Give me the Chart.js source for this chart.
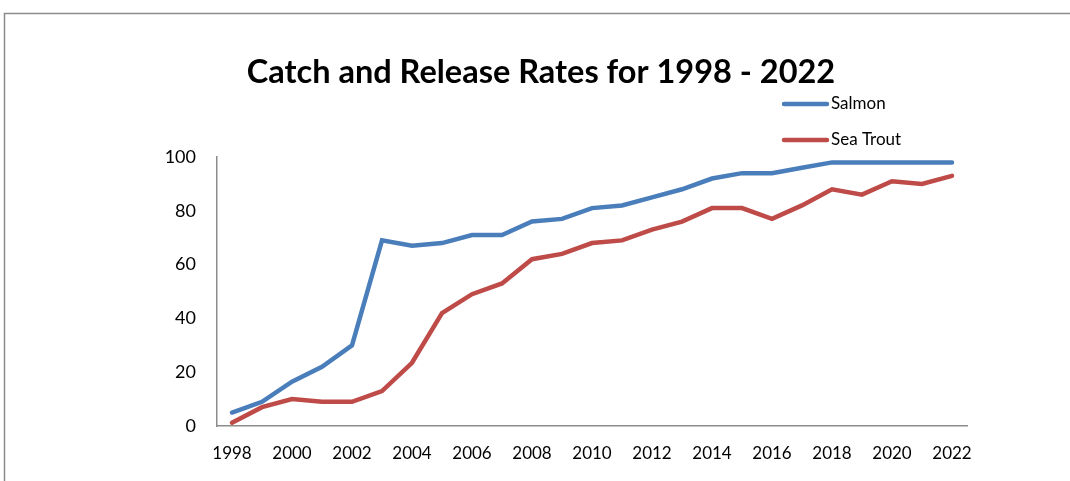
<!DOCTYPE html>
<html>
<head>
<meta charset="utf-8">
<script src="https://cdn.jsdelivr.net/npm/chart.js@4.4.1/dist/chart.umd.min.js"></script>
<style>
  html, body { margin: 0; padding: 0; background: #fff; }
  #wrap { width: 1070px; height: 481px; }
</style>
</head>
<body>
<div id="wrap"><canvas id="rates_chart" width="1070" height="481"></canvas></div>
<script>
const years = ['1998', '1999', '2000', '2001', '2002', '2003', '2004', '2005', '2006', '2007', '2008', '2009',
  '2010', '2011', '2012', '2013', '2014', '2015', '2016', '2017', '2018', '2019', '2020', '2021', '2022'];
const salmon = [5, 9, 16.5, 22, 30, 69, 67, 68, 71, 71, 76, 77, 81, 82, 85, 88, 92, 94, 94, 96, 98, 98, 98, 98, 98];
const seaTrout = [1.2, 7, 10, 9, 9, 13, 23.5, 42, 49, 53, 62, 64, 68, 69, 73, 76, 81, 81, 77, 82, 88, 86, 91, 90, 93];
const yTicks = [0, 20, 40, 60, 80, 100];
const titleText = 'Catch and Release Rates for 1998 - 2022';

const fontFamily = 'Lato, "Open Sans", sans-serif';

// frame, title and legend drawn by hand
const decorations = {
    id: 'decorations',
    beforeDraw(chart) {
      const ctx = chart.ctx;
      ctx.save();
      ctx.strokeStyle = '#8c8c8c';
      ctx.lineWidth = 1.5;
      ctx.beginPath();
      ctx.moveTo(4.5, 481);
      ctx.lineTo(4.5, 13.5);
      ctx.lineTo(1070, 13.5);
      ctx.stroke();
      ctx.restore();
    },
    afterDraw(chart) {
      const ctx = chart.ctx;
      ctx.save();
      ctx.fillStyle = '#000';
      ctx.font = 'bold 32.5px ' + fontFamily;
      ctx.textAlign = 'center';
      ctx.textBaseline = 'middle';
      ctx.fillText(titleText, 541, 73);

      ctx.font = '17px ' + fontFamily;
      ctx.textAlign = 'left';
      const rows = [104, 140];
      chart.data.datasets.forEach((ds, i) => {
        const y = rows[i];
        ctx.strokeStyle = ds.borderColor;
        ctx.lineWidth = 4.5;
        ctx.lineCap = 'round';
        ctx.beginPath();
        ctx.moveTo(784, y);
        ctx.lineTo(827, y);
        ctx.stroke();
        ctx.fillStyle = '#000';
        ctx.fillText(ds.label, 831, y);
      });
      ctx.restore();
    }
};

new Chart(document.getElementById('rates_chart'), {
    type: 'line',
    data: {
        labels: years,
        datasets: [
            {
                label: 'Salmon',
                data: salmon,
                borderColor: '#4a7ebb',
                backgroundColor: '#4a7ebb',
                borderWidth: 4.5,
                pointRadius: 0,
                borderCapStyle: 'round',
                fill: false,
                tension: 0
            },
            {
                label: 'Sea Trout',
                data: seaTrout,
                borderColor: '#be4b48',
                backgroundColor: '#be4b48',
                borderWidth: 4.5,
                pointRadius: 0,
                borderCapStyle: 'round',
                fill: false,
                tension: 0
            }
        ]
    },
    options: {
        responsive: false,
        animation: false,
        layout: {
            padding: { left: 0, right: 103, top: 157, bottom: 0 }
        },
        plugins: {
            legend: { display: false },
            title: { display: false },
            tooltip: { enabled: false }
        },
        scales: {
            x: {
                offset: true,
                afterFit: (scale) => { scale.height = 55; },
                grid: { display: false, drawTicks: false },
                border: { display: true, color: '#8c8c8c', width: 1.5 },
                ticks: {
                    autoSkip: false,
                    maxRotation: 0,
                    padding: 17,
                    color: '#000',
                    font: { family: fontFamily, size: 17 },
                    callback: function(value, index) {
                        return index % 2 === 0 ? this.getLabelForValue(value) : '';
                    }
                }
            },
            y: {
                min: 0,
                max: 100,
                afterFit: (scale) => { scale.width = 217; },
                afterBuildTicks: (scale) => { scale.ticks = yTicks.map(v => ({ value: v })); },
                grid: { display: false, drawTicks: false },
                border: { display: true, color: '#8c8c8c', width: 1.5 },
                ticks: {
                    padding: 21,
                    color: '#000',
                    font: { family: fontFamily, size: 18 }
                }
            }
        }
    },
    plugins: [decorations]
});
</script>
</body>
</html>
